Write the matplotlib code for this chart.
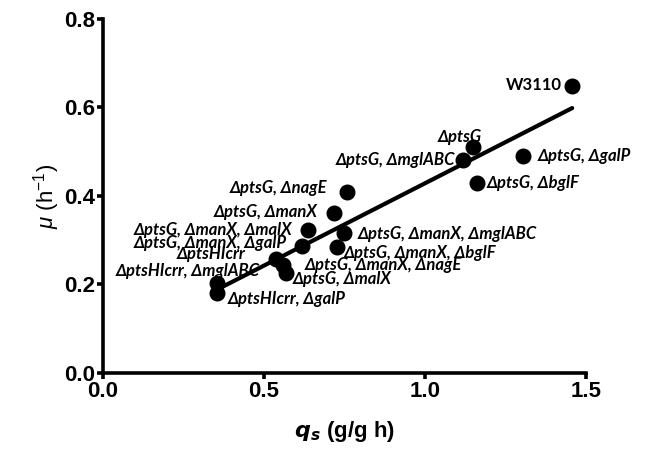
import numpy as np
import matplotlib
matplotlib.use("Agg")
import matplotlib.pyplot as plt

plt.rcParams['font.family'] = ['Liberation Sans', 'DejaVu Sans']
plt.rcParams['mathtext.fontset'] = 'custom'
plt.rcParams['mathtext.rm'] = 'Liberation Sans'
plt.rcParams['mathtext.it'] = 'Liberation Sans:italic'
plt.rcParams['mathtext.bf'] = 'Liberation Sans:bold'

# 株ごとのグルコース比消費速度 qs と比増殖速度 mu
strains = [
    "W3110",
    "ΔptsG",
    "ΔptsG, ΔmglABC",
    "ΔptsG, ΔgalP",
    "ΔptsG, ΔbglF",
    "ΔptsG, ΔnagE",
    "ΔptsG, ΔmanX",
    "ΔptsG, ΔmanX, ΔmalX",
    "ΔptsG, ΔmanX, ΔgalP",
    "ΔptsG, ΔmanX, ΔmglABC",
    "ΔptsG, ΔmanX, ΔbglF",
    "ΔptsG, ΔmanX, ΔnagE",
    "ΔptsHIcrr",
    "ΔptsG, ΔmalX",
    "ΔptsHIcrr, ΔmglABC",
    "ΔptsHIcrr, ΔgalP",
]
qs = [1.457, 1.150, 1.119, 1.305, 1.162, 0.757, 0.717, 0.638, 0.617,
      0.748, 0.728, 0.559, 0.537, 0.568, 0.353, 0.355]
mu = [0.648, 0.511, 0.482, 0.490, 0.430, 0.408, 0.362, 0.324, 0.286,
      0.317, 0.285, 0.245, 0.258, 0.227, 0.204, 0.181]

# ラベルの置き方 (ピクセル単位のずれ, 寄せ方向)
label_dx = [-10, 8, -8, 14, 10, -20, -16, -16, -15, 14, 6, 22, -30, 7, 43, 10]
label_dy = [1, 10, 0, 0, 0, 4, 1, 0, 3, -1, -6, 0, 5, -6, 12, -6]
label_ha = ['right', 'right', 'right', 'left', 'left', 'right', 'right', 'right',
            'right', 'left', 'left', 'left', 'right', 'left', 'right', 'left']

fig = plt.figure(figsize=(6.51, 4.53), dpi=100)
ax = fig.add_axes([0.1582, 0.1766, 0.742, 0.7815])

ax.plot(qs, mu, 'o', color='black', markersize=10.5, zorder=3)

# 直線回帰
slope, intercept = np.polyfit(qs, mu, 1)
xfit = np.linspace(min(qs), max(qs), 50)
ax.plot(xfit, slope * xfit + intercept, color='black', linewidth=3,
        solid_capstyle='round', zorder=2)

for name, x, y, dx, dy, ha in zip(strains, qs, mu, label_dx, label_dy, label_ha):
    style = 'normal' if name == "W3110" else 'italic'
    ax.annotate(name, (x, y), xytext=(dx, dy), textcoords='offset pixels',
                ha=ha, va='center', fontsize=12, fontweight='bold',
                fontstyle=style, family=['Lato', 'DejaVu Sans'])

ax.set_xlim(0, 1.5)
ax.set_ylim(0, 0.8)
ax.set_xticks([0.0, 0.5, 1.0, 1.5])
ax.set_yticks([0.0, 0.2, 0.4, 0.6, 0.8])
ax.xaxis.set_major_formatter(matplotlib.ticker.FormatStrFormatter('%.1f'))
ax.yaxis.set_major_formatter(matplotlib.ticker.FormatStrFormatter('%.1f'))

for side in ['top', 'right']:
    ax.spines[side].set_visible(False)
for side in ['left', 'bottom']:
    ax.spines[side].set_linewidth(2.6)
ax.tick_params(direction='out', length=4, width=2.6, labelsize=16, pad=2)
for lab in ax.get_xticklabels() + ax.get_yticklabels():
    lab.set_fontweight('bold')

ax.set_xlabel(r'$\mathbfit{q_s}$ (g/g h)', fontsize=16, fontweight='bold',
              labelpad=12)
ax.set_ylabel(r'$\mu$ (h$^{-1}$)', fontsize=16, labelpad=1)

fig.savefig('out.png', dpi=100)
